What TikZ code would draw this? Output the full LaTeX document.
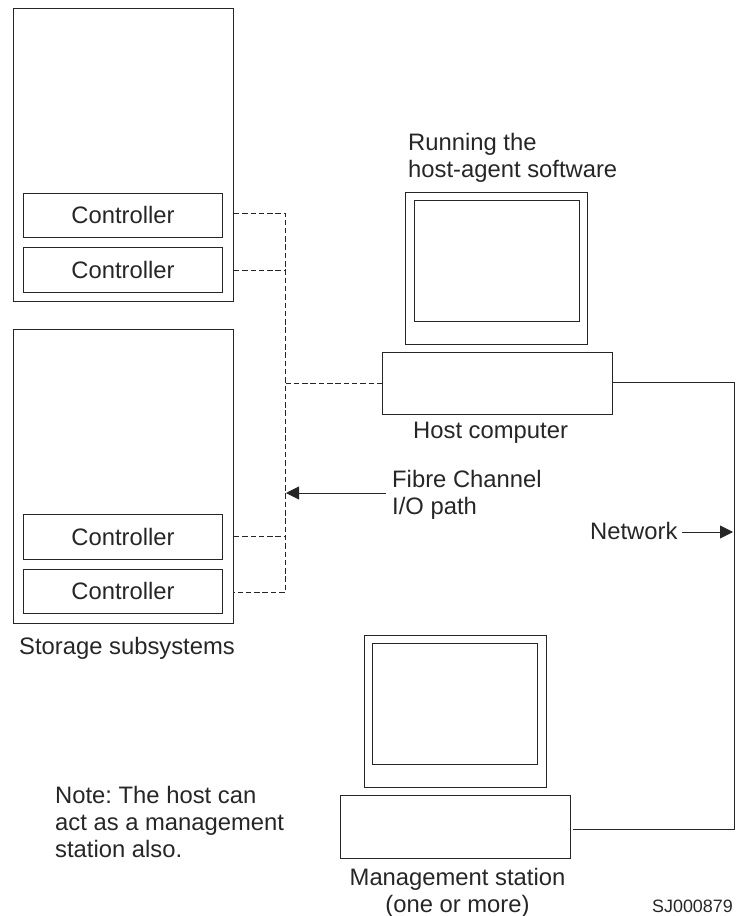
\documentclass[tikz,border=0pt]{standalone}
\usepackage{fontspec}
\setmainfont{Liberation Sans}
\usetikzlibrary{arrows.meta}
\definecolor{ink}{gray}{0.15}
\frenchspacing
\tikzset{
  x=1pt,y=-1pt,
  frame/.style={draw=ink,line width=0.9pt,inner sep=0pt,anchor=north west},
  lbl/.style={font=\fontsize{23.8}{27}\selectfont,inner sep=0pt,text=ink},
  dashline/.style={draw=ink,line width=0.8pt,dash pattern=on 5.5pt off 2.8pt},
  solidline/.style={draw=ink,line width=0.9pt},
  tip/.style={-{Triangle[length=13pt,width=13pt]}}
}
\begin{document}
\begin{tikzpicture}
\useasboundingbox (0,0) rectangle (736,916);
\node[frame,minimum width=220pt,minimum height=293.5pt] (rack1) at (13,7.5) {};
\node[frame,lbl,minimum width=199pt,minimum height=44pt] (c1) at (23,193) {Controller};
\node[frame,lbl,minimum width=199pt,minimum height=45pt] (c2) at (23,247) {Controller};
\node[frame,minimum width=220pt,minimum height=294pt] (rack2) at (13,329) {};
\node[frame,lbl,minimum width=199pt,minimum height=45pt] (c3) at (23,514) {Controller};
\node[frame,lbl,minimum width=199pt,minimum height=44pt] (c4) at (23,569) {Controller};
\node[lbl,anchor=base west] (storage) at (19,654) {Storage subsystems};
% host
\node[frame,minimum width=182pt,minimum height=152pt] (mon1) at (405,192) {};
\node[frame,minimum width=165pt,minimum height=121pt] (scr1) at (414,200) {};
\node[frame,minimum width=230pt,minimum height=62pt] (host) at (382,352) {};
\node[lbl,anchor=base west] (hostlbl) at (413,438) {Host computer};
\node[lbl,anchor=base west,align=left] (running) at (408,177) {Running the\\host-agent software};
% mgmt
\node[frame,minimum width=182pt,minimum height=152pt] (mon2) at (364,635) {};
\node[frame,minimum width=165pt,minimum height=121pt] (scr2) at (372,643) {};
\node[frame,minimum width=230pt,minimum height=63pt] (mgmt) at (340,795) {};
\node[lbl,align=center,anchor=base] (mgmtlbl) at (457.5,912) {Management station\\(one or more)};
\node[lbl,anchor=base west,align=left] (note) at (55,857) {Note: The host can\\act as a management\\station also.};
\node[lbl,anchor=base west,align=left] (fc) at (392,514) {Fibre Channel\\I/O path};
\node[lbl,anchor=base west] (net) at (590,539) {Network};
\node[anchor=base east,inner sep=0pt,text=ink,font=\fontsize{17.9}{20}\selectfont] (sj) at (733,912) {SJ000879};
\coordinate (bus1) at (285.5,213);
\coordinate (bus2) at (285.5,592);
\coordinate (bush) at (285.5,383);
\coordinate (busf) at (286,493);
\coordinate (busa) at (285.5,270);
\coordinate (busb) at (285.5,536);
\coordinate (netr) at (734.5,382);
\coordinate (netb) at (734.5,829);
\coordinate (neta) at (733,532);
% dashed
\draw[dashline] (rack1.east |- bus1) -- (bus1) -- (bus2) -- (rack2.east |- bus2);
\draw[dashline] (rack1.east |- busa) -- (busa);
\draw[dashline] (rack2.east |- busb) -- (busb);
\draw[dashline] (bush) -- (host.west |- bush);
% solid
\draw[solidline] (host.east |- netr) -- (netr) -- (netb) -- ([xshift=2pt]mgmt.east |- netb);
\draw[solidline,tip] ([xshift=-6pt]fc.west |- busf) -- (busf);
\draw[solidline,tip] ([xshift=4pt]net.east |- neta) -- (neta);
\end{tikzpicture}
\end{document}
